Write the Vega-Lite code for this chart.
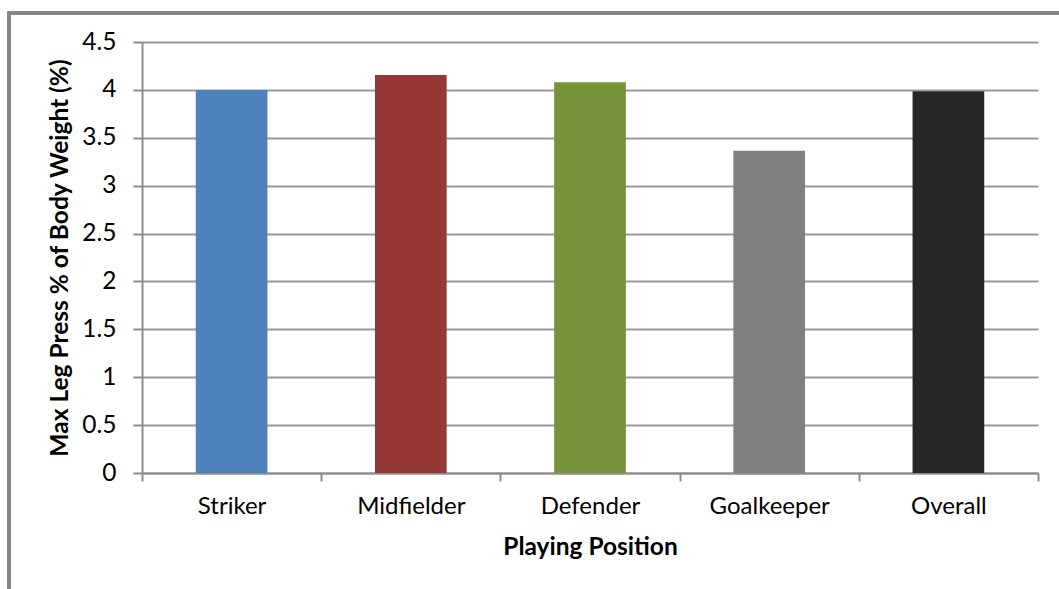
{
  "$schema": "https://vega.github.io/schema/vega-lite/v6.json",
  "width": 896,
  "height": 431,
  "autosize": {"type": "none"},
  "padding": {"left": 142, "top": 42, "right": 21, "bottom": 116},
  "background": "white",
  "config": {
    "view": {"stroke": null},
    "font": "Lato",
    "axis": {"labelColor": "#000000", "titleColor": "#000000", "labelFont": "Lato", "titleFont": "Lato"}
  },
  "data": {
    "values": [
      {"position": "Striker", "value": 4.0},
      {"position": "Midfielder", "value": 4.155},
      {"position": "Defender", "value": 4.08},
      {"position": "Goalkeeper", "value": 3.365},
      {"position": "Overall", "value": 3.985}
    ]
  },
  "layer": [
    {
      "mark": {"type": "rect", "fill": null, "stroke": "#868686", "strokeWidth": 3, "clip": false},
      "encoding": {
        "x": {"value": -133},
        "x2": {"value": 925},
        "y": {"value": -29},
        "y2": {"value": 560}
      }
    },
    {
      "mark": {"type": "bar", "width": {"band": 0.4}},
      "encoding": {
        "x": {
          "field": "position",
          "type": "nominal",
          "sort": null,
          "scale": {"paddingInner": 0, "paddingOuter": 0},
          "axis": {
            "title": "Playing Position",
            "titleFontSize": 24.5,
            "titleFontWeight": "bold",
            "titlePadding": 17,
            "labelFontSize": 24,
            "labelAngle": 0,
            "labelPadding": 13,
            "tickBand": "extent",
            "tickSize": 8,
            "tickWidth": 2,
            "tickColor": "#8c8c8c",
            "domainColor": "#8c8c8c",
            "domainWidth": 2,
            "grid": false
          }
        },
        "y": {
          "field": "value",
          "type": "quantitative",
          "scale": {"domain": [0, 4.5], "nice": false},
          "axis": {
            "title": "Max Leg Press % of Body Weight (%)",
            "titleFontSize": 24.5,
            "titleFontWeight": "bold",
            "titlePadding": 9,
            "values": [0, 0.5, 1, 1.5, 2, 2.5, 3, 3.5, 4, 4.5],
            "format": "~g",
            "labelFontSize": 24.5,
            "labelPadding": 17,
            "tickSize": 9,
            "tickWidth": 2,
            "tickColor": "#8c8c8c",
            "domainColor": "#8c8c8c",
            "domainWidth": 2,
            "grid": true,
            "gridColor": "#999999",
            "gridWidth": 2
          }
        },
        "color": {
          "field": "position",
          "type": "nominal",
          "sort": null,
          "scale": {
            "domain": ["Striker", "Midfielder", "Defender", "Goalkeeper", "Overall"],
            "range": ["#4F81BD", "#953735", "#77933C", "#7F7F7F", "#262626"]
          },
          "legend": null
        }
      }
    }
  ]
}
